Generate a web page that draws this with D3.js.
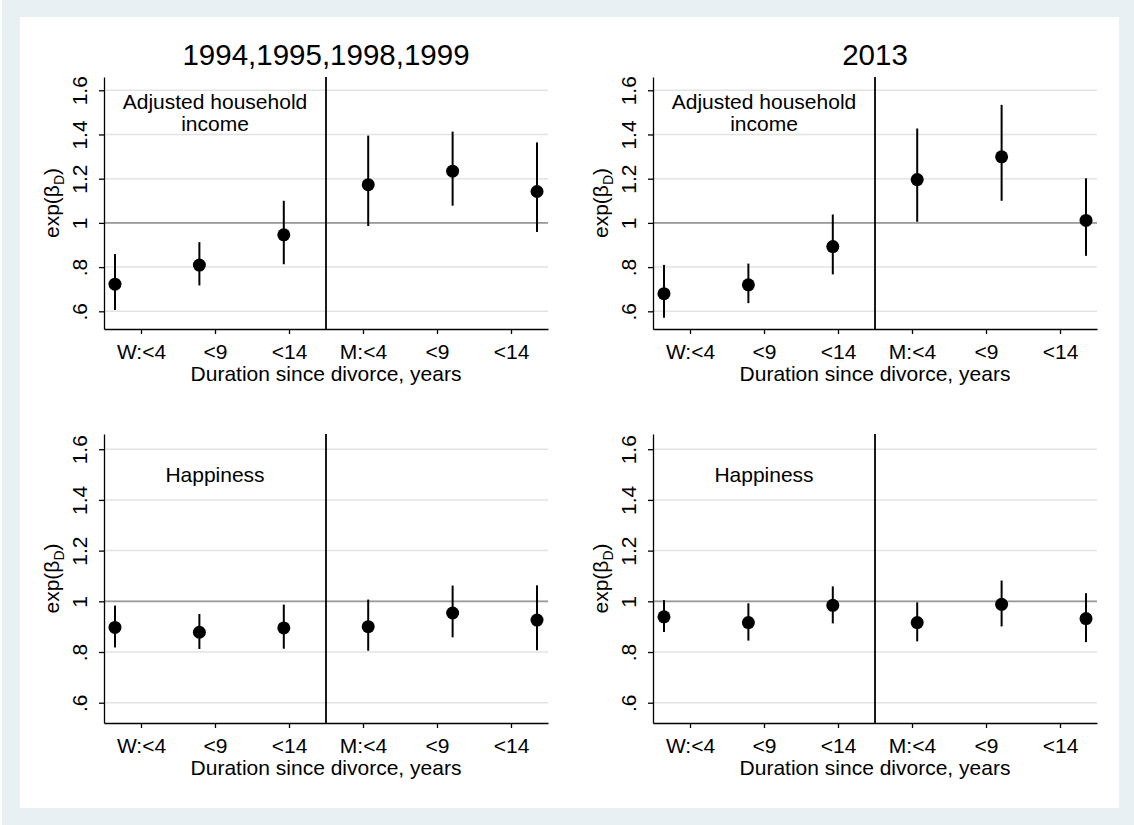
<!DOCTYPE html>
<html><head><meta charset="utf-8">
<script src="https://cdn.jsdelivr.net/npm/d3@7"></script>
<style>
html,body{margin:0;padding:0;background:#fff;}
svg{display:block;font-family:"Liberation Sans",Arial,Helvetica,sans-serif;}
</style>
</head><body>
<svg id="chart" width="1134" height="825"></svg>
<script>
// ---------- data ----------
const categories = ["W4", "W9", "W14", "M4", "M9", "M14"];
const tickLabels = ["W:<4", "<9", "<14", "M:<4", "<9", "<14"];
const yTickValues = [0.6, 0.8, 1, 1.2, 1.4, 1.6];
const yTickLabels = [".6", ".8", "1", "1.2", "1.4", "1.6"];
const yDomain = [0.52, 1.66];
const panelTitles = ["1994,1995,1998,1999", "2013"];
const outcomeLabels = [["Adjusted household", "income"], ["Happiness"]];
const xAxisTitle = "Duration since divorce, years";
const referenceValue = 1;
const labelPosition = { cat: "W9", value: 1.5 };

const income9499Est = [0.723, 0.809, 0.946, 1.173, 1.234, 1.142];
const income9499Lo  = [0.606, 0.717, 0.813, 0.986, 1.078, 0.959];
const income9499Hi  = [0.859, 0.913, 1.100, 1.395, 1.413, 1.364];

const income2013Est = [0.680, 0.720, 0.893, 1.196, 1.299, 1.011];
const income2013Lo  = [0.571, 0.637, 0.767, 1.005, 1.100, 0.851];
const income2013Hi  = [0.810, 0.816, 1.038, 1.427, 1.534, 1.202];

const happy9499Est = [0.897, 0.878, 0.895, 0.900, 0.954, 0.926];
const happy9499Lo  = [0.818, 0.812, 0.813, 0.805, 0.858, 0.807];
const happy9499Hi  = [0.983, 0.950, 0.987, 1.007, 1.062, 1.063];

const happy2013Est = [0.939, 0.916, 0.984, 0.916, 0.988, 0.932];
const happy2013Lo  = [0.879, 0.845, 0.913, 0.842, 0.901, 0.839];
const happy2013Hi  = [1.005, 0.992, 1.059, 0.996, 1.082, 1.032];

// ---------- layout ----------
const W = 1134, H = 825;
const cols = [{ left: 104, right: 548 }, { left: 653, right: 1097 }];
const rows = [{ top: 77, bottom: 329 }, { top: 434, bottom: 723 }];

const panels = [
  { row: 0, col: 0, title: panelTitles[0], label: outcomeLabels[0], est: income9499Est, lo: income9499Lo, hi: income9499Hi },
  { row: 0, col: 1, title: panelTitles[1], label: outcomeLabels[0], est: income2013Est, lo: income2013Lo, hi: income2013Hi },
  { row: 1, col: 0, title: null, label: outcomeLabels[1], est: happy9499Est, lo: happy9499Lo, hi: happy9499Hi },
  { row: 1, col: 1, title: null, label: outcomeLabels[1], est: happy2013Est, lo: happy2013Lo, hi: happy2013Hi }
];

const svg = d3.select("#chart");
svg.append("rect").attr("x", 0).attr("y", 0).attr("width", W).attr("height", H).attr("fill", "#ffffff");
svg.append("rect").attr("x", 2).attr("y", 0).attr("width", W - 2).attr("height", H).attr("fill", "#e8f0f3");
svg.append("rect").attr("x", 20).attr("y", 17).attr("width", 1099).attr("height", 791).attr("fill", "#ffffff");

panels.forEach(p => {
  const L = cols[p.col].left, R = cols[p.col].right;
  const T = rows[p.row].top, B = rows[p.row].bottom;
  const g = svg.append("g");

  const xTick = d3.scalePoint().domain(categories).range([L, R]).padding(0.5);
  const xPt = d3.scalePoint().domain(categories).range([L, R]).padding(0.13);
  const y = d3.scaleLinear().domain(yDomain).range([B, T]);

  // gridlines
  g.selectAll("line.grid").data(yTickValues).join("line")
    .attr("class", "grid")
    .attr("x1", L).attr("x2", R)
    .attr("y1", d => y(d)).attr("y2", d => y(d))
    .attr("stroke", "#e3e3e3").attr("stroke-width", 1.5);

  // reference line
  g.append("line")
    .attr("x1", L).attr("x2", R)
    .attr("y1", y(referenceValue)).attr("y2", y(referenceValue))
    .attr("stroke", "#9a9a9a").attr("stroke-width", 1.7);

  // divider between women and men
  const xd = (xTick("W14") + xTick("M4")) / 2;
  g.append("line")
    .attr("x1", xd).attr("x2", xd).attr("y1", T).attr("y2", B)
    .attr("stroke", "#000").attr("stroke-width", 1.8);

  // axes
  const yAxis = g.append("g").attr("transform", `translate(${L},0)`)
    .call(d3.axisLeft(y).tickValues(yTickValues).tickSize(5).tickSizeOuter(0)
      .tickFormat((d, i) => yTickLabels[i]));
  yAxis.select(".domain").attr("stroke", "#000").attr("stroke-width", 1.3);
  yAxis.selectAll(".tick line").attr("stroke", "#000").attr("stroke-width", 1.3);
  yAxis.selectAll(".tick text")
    .attr("x", null).attr("dy", null)
    .attr("transform", "translate(-17,0) rotate(-90)")
    .attr("text-anchor", "middle")
    .attr("font-size", 21).attr("fill", "#000")
    .style("font-family", '"Liberation Sans", Arial, sans-serif');

  const xAxis = g.append("g").attr("transform", `translate(0,${B})`)
    .call(d3.axisBottom(xTick).tickSize(5).tickSizeOuter(0)
      .tickFormat((d, i) => tickLabels[i]));
  xAxis.select(".domain").attr("stroke", "#000").attr("stroke-width", 1.3);
  xAxis.selectAll(".tick line").attr("stroke", "#000").attr("stroke-width", 1.3);
  xAxis.selectAll(".tick text")
    .attr("y", 30).attr("dy", null)
    .attr("font-size", 21).attr("fill", "#000")
    .style("font-family", '"Liberation Sans", Arial, sans-serif');

  // axis titles
  g.append("text")
    .attr("x", (L + R) / 2).attr("y", B + 52)
    .attr("text-anchor", "middle").attr("font-size", 21).attr("fill", "#000")
    .text(xAxisTitle);

  const yt = g.append("text")
    .attr("transform", `translate(${L - 45},${(T + B) / 2}) rotate(-90)`)
    .attr("text-anchor", "middle").attr("font-size", 21).attr("fill", "#000");
  yt.append("tspan").text("exp(\u03B2");
  yt.append("tspan").attr("font-size", 14).attr("dy", 5).text("D");
  yt.append("tspan").attr("dy", -5).text(")");

  // title
  if (p.title) {
    g.append("text")
      .attr("x", (L + R) / 2).attr("y", 65)
      .attr("text-anchor", "middle").attr("font-size", 29.5).attr("fill", "#000")
      .text(p.title);
  }

  // outcome label
  const n = p.label.length;
  const lx = xTick(labelPosition.cat), ly = y(labelPosition.value);
  p.label.forEach((s, i) => {
    g.append("text")
      .attr("x", lx).attr("y", ly - (n - 1) * 11 + 7.5 + i * 22)
      .attr("text-anchor", "middle").attr("font-size", 21).attr("fill", "#000")
      .text(s);
  });

  // error bars and estimates
  const data = categories.map((c, i) => ({ c, est: p.est[i], lo: p.lo[i], hi: p.hi[i] }));
  g.selectAll("line.ci").data(data).join("line")
    .attr("class", "ci")
    .attr("x1", d => xPt(d.c)).attr("x2", d => xPt(d.c))
    .attr("y1", d => y(d.lo)).attr("y2", d => y(d.hi))
    .attr("stroke", "#000").attr("stroke-width", 2);
  g.selectAll("circle.pt").data(data).join("circle")
    .attr("class", "pt")
    .attr("cx", d => xPt(d.c)).attr("cy", d => y(d.est))
    .attr("r", 6.5).attr("fill", "#000");
});
</script>
</body></html>
